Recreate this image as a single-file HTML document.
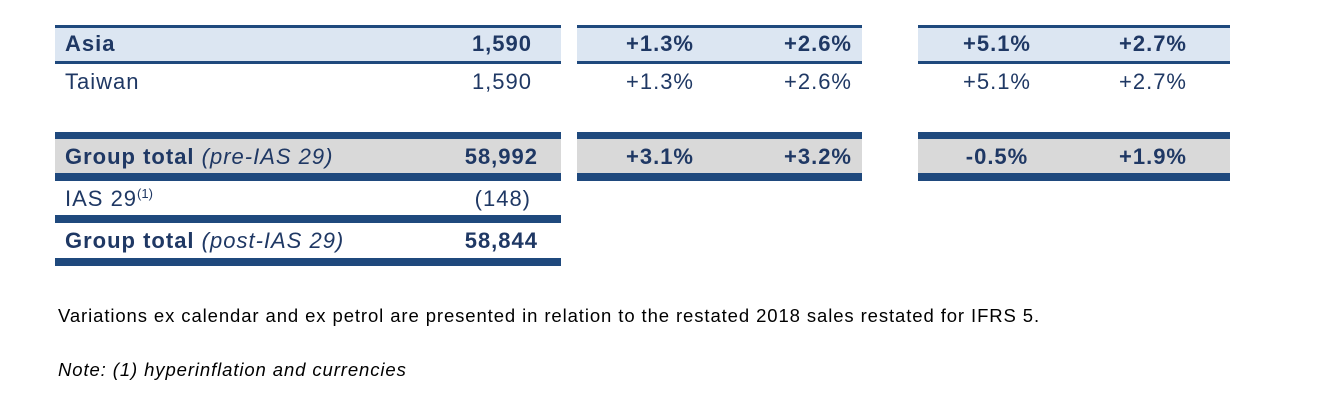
<!DOCTYPE html>
<html><head><style>
body{margin:0;width:1322px;height:400px;background:#fff;position:relative;overflow:hidden;font-family:"Liberation Sans",sans-serif;color:#1F3864}
div{position:absolute;box-sizing:border-box}
.b{background:#1F497D}
.t{font-size:22px;line-height:22px;white-space:nowrap;letter-spacing:1px}
.bo{font-weight:bold}
.c{transform:translateX(-50%)}
.r{transform:translateX(-100%)}
</style></head><body>
<!-- left table -->
<div class="b" style="left:55px;top:25px;width:506px;height:3px"></div>
<div style="left:55px;top:28px;width:506px;height:33px;background:#DCE6F2"></div>
<div class="b" style="left:55px;top:61px;width:506px;height:3px"></div>
<div class="t bo" style="left:65px;top:33px">Asia</div>
<div class="t bo r" style="left:532px;top:33px">1,590</div>
<div class="t" style="left:65px;top:71px">Taiwan</div>
<div class="t r" style="left:532px;top:71px">1,590</div>

<div class="b" style="left:55px;top:132px;width:506px;height:7px"></div>
<div style="left:55px;top:139px;width:506px;height:34px;background:#D9D9D9"></div>
<div class="b" style="left:55px;top:173px;width:506px;height:8px"></div>
<div class="t bo" style="left:65px;top:146px">Group total <i style="font-weight:normal">(pre-IAS 29)</i></div>
<div class="t bo r" style="left:538px;top:146px">58,992</div>
<div class="t" style="left:65px;top:188px">IAS 29<span style="font-size:13px;position:relative;top:-8px;letter-spacing:0">(1)</span></div>
<div class="t r" style="left:531px;top:188px">(148)</div>
<div class="b" style="left:55px;top:215px;width:506px;height:8px"></div>
<div class="t bo" style="left:65px;top:230px">Group total <i style="font-weight:normal">(post-IAS 29)</i></div>
<div class="t bo r" style="left:538px;top:230px">58,844</div>
<div class="b" style="left:55px;top:258px;width:506px;height:8px"></div>

<!-- middle -->
<div class="b" style="left:577px;top:25px;width:285px;height:3px"></div>
<div style="left:577px;top:28px;width:285px;height:33px;background:#DCE6F2"></div>
<div class="b" style="left:577px;top:61px;width:285px;height:3px"></div>
<div class="b" style="left:577px;top:132px;width:285px;height:7px"></div>
<div style="left:577px;top:139px;width:285px;height:34px;background:#D9D9D9"></div>
<div class="b" style="left:577px;top:173px;width:285px;height:8px"></div>
<!-- right -->
<div class="b" style="left:918px;top:25px;width:312px;height:3px"></div>
<div style="left:918px;top:28px;width:312px;height:33px;background:#DCE6F2"></div>
<div class="b" style="left:918px;top:61px;width:312px;height:3px"></div>
<div class="b" style="left:918px;top:132px;width:312px;height:7px"></div>
<div style="left:918px;top:139px;width:312px;height:34px;background:#D9D9D9"></div>
<div class="b" style="left:918px;top:173px;width:312px;height:8px"></div>

<div class="t bo c" style="left:660px;top:33px">+1.3%</div>
<div class="t bo c" style="left:818px;top:33px">+2.6%</div>
<div class="t bo c" style="left:997px;top:33px">+5.1%</div>
<div class="t bo c" style="left:1153px;top:33px">+2.7%</div>
<div class="t c" style="left:660px;top:71px">+1.3%</div>
<div class="t c" style="left:818px;top:71px">+2.6%</div>
<div class="t c" style="left:997px;top:71px">+5.1%</div>
<div class="t c" style="left:1153px;top:71px">+2.7%</div>
<div class="t bo c" style="left:660px;top:146px">+3.1%</div>
<div class="t bo c" style="left:818px;top:146px">+3.2%</div>
<div class="t bo c" style="left:997px;top:146px">-0.5%</div>
<div class="t bo c" style="left:1153px;top:146px">+1.9%</div>

<div style="left:58px;top:305px;font-size:18.5px;color:#000;white-space:nowrap;letter-spacing:0.9px">Variations ex calendar and ex petrol are presented in relation to the restated 2018 sales restated for IFRS 5.</div>
<div style="left:58px;top:359px;font-size:18.5px;color:#000;white-space:nowrap;font-style:italic;letter-spacing:0.9px">Note: (1) hyperinflation and currencies</div>
</body></html>
